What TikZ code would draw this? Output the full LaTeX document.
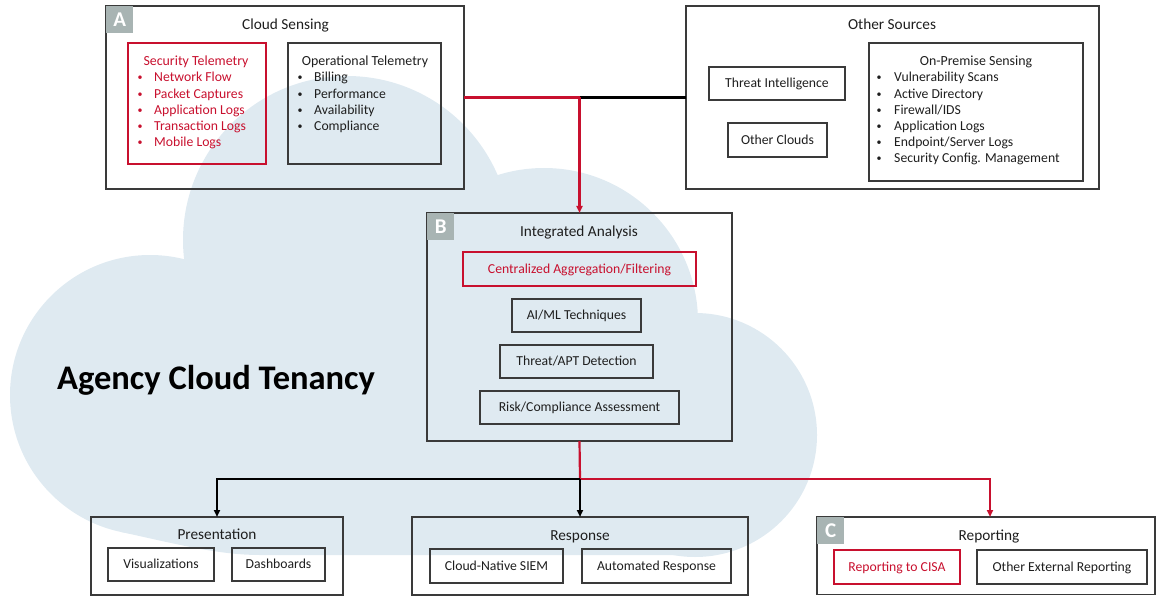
\documentclass[tikz,border=0pt]{standalone}
\usepackage{fontspec}
\setmainfont{Carlito}
\usetikzlibrary{arrows.meta}

\definecolor{cloudfill}{HTML}{DFEAF1}
\definecolor{cisared}{HTML}{C8102E}
\definecolor{frame}{HTML}{3A3A3A}
\definecolor{ink}{HTML}{1E1E1E}
\definecolor{tagfill}{HTML}{A8B4B3}

% box given by its corners (x1,y1) (x2,y2); node text may follow
\newcommand\mkbox[6]{%
  \node[#6, minimum width={(#4)-(#2)}, minimum height={(#5)-(#3)}] (#1)
    at ({((#2)+(#4))/2},{((#3)+(#5))/2})}

\begin{document}
\begin{tikzpicture}[x=1pt,y=-1pt,
  panel/.style={draw=frame, line width=1.4pt, inner sep=0pt, outer sep=0pt},
  redpanel/.style={draw=cisared, line width=1.9pt, inner sep=0pt, outer sep=0pt},
  lbl/.style={font=\fontsize{13.7}{16}\selectfont, text=ink, text height=8.5pt, text depth=0pt},
  redlbl/.style={lbl, text=cisared},
  ttl/.style={font=\fontsize{15.3}{18}\selectfont, text=ink, inner sep=0pt, anchor=base},
  item/.style={font=\fontsize{13.7}{16}\selectfont, text=ink, inner sep=0pt, anchor=base west},
  bul/.style={font=\fontsize{10}{12}\selectfont, text=ink, inner sep=0pt, anchor=base},
  tag/.style={fill=tagfill, inner sep=0pt, minimum size=27pt, anchor=north west,
    font=\bfseries\fontsize{21}{21}\selectfont, text=white},
  blackline/.style={draw=black, line width=2.2pt},
  redline/.style={draw=cisared, line width=2.2pt},
  tip/.style={-{Triangle[length=7pt,width=6pt]}}]

\useasboundingbox (0,0) rectangle (1156,596);

% agency cloud backdrop
\begin{scope}[fill=cloudfill]
  \fill (347,240) circle[radius=164];
  \fill (150,395) circle[radius=140];
  \fill (544,322) circle[radius=154];
  \fill (695,435) circle[radius=122];
  \fill (150,395) -- (120,531.7) .. controls (180,545) and (220,555) .. (260,555)
        -- (695,555) -- (695,435) -- (544,322) -- (347,240) -- cycle;
\end{scope}
\node[font=\bfseries\fontsize{34.5}{38}\selectfont, text=black, anchor=base west, inner sep=0pt]
  (tenancy) at (57,389) {Agency Cloud Tenancy};

% A: cloud sensing
\mkbox{A}{106}{6}{464}{189}{panel} {};
\node[ttl] (Att) at (285.5,29.3) {Cloud Sensing};
\mkbox{sec}{128}{43}{266}{164}{redpanel} {};
\node[ttl, font=\fontsize{13.9}{16}\selectfont, text=cisared] (sectt) at (196,65.7) {Security Telemetry};
\foreach \t [count=\i from 0] in {Network Flow, Packet Captures, Application Logs, Transaction Logs, Mobile Logs}{
  \node[bul, text=cisared] (secb\i) at (140,{81+16.2*\i}) {\textbullet};
  \node[item, text=cisared] (sec\i) at (154,{82+16.2*\i}) {\t};
}
\mkbox{ops}{288}{43}{441}{164}{panel} {};
\node[ttl, font=\fontsize{13.9}{16}\selectfont] (opstt) at (365,65.7) {Operational Telemetry};
\foreach \t [count=\i from 0] in {Billing, Performance, Availability, Compliance}{
  \node[bul] (opsb\i) at (300,{81+16.2*\i}) {\textbullet};
  \node[item] (ops\i) at (314,{82+16.2*\i}) {\t};
}

% other sources
\mkbox{O}{686}{6}{1099}{189}{panel} {};
\node[ttl] (Ott) at (892,29.3) {Other Sources};
\mkbox{TI}{709}{67}{845}{100}{panel,lbl} {Threat Intelligence};
\mkbox{OC}{728}{123}{827}{157}{panel,lbl} {Other Clouds};
\mkbox{onp}{869}{43}{1083}{181}{panel} {};
\node[ttl, font=\fontsize{13.9}{16}\selectfont] (onptt) at (976,65.5) {On-Premise Sensing};
\foreach \t [count=\i from 0] in {Vulnerability Scans, Active Directory, Firewall/IDS, Application Logs, Endpoint/Server Logs, Security Config. Management}{
  \node[bul] (onpb\i) at (879,{81+16.2*\i}) {\textbullet};
  \node[item] (onp\i) at (894,{82+16.2*\i}) {\t};
}

% B: integrated analysis
\mkbox{B}{427}{213}{732}{441}{panel} {};
\node[ttl] (Btt) at (579,236.5) {Integrated Analysis};
\mkbox{agg}{463}{252}{696}{286}{redpanel,redlbl} {Centralized Aggregation/Filtering};
\mkbox{aiml}{512}{299}{641}{332}{panel,lbl} {AI/ML Techniques};
\mkbox{apt}{500}{345}{653}{378}{panel,lbl} {Threat/APT Detection};
\mkbox{risk}{480}{391}{679}{424}{panel,lbl} {Risk/Compliance Assessment};

% outputs
\mkbox{P}{91}{517}{343}{595}{panel} {};
\node[ttl] (Ptt) at (217,539.5) {Presentation};
\mkbox{vis}{108}{548}{214}{581}{panel,lbl} {Visualizations};
\mkbox{dash}{232}{548}{325}{581}{panel,lbl} {Dashboards};

\mkbox{S}{412}{517}{748}{595}{panel} {};
\node[ttl] (Stt) at (580,540.5) {Response};
\mkbox{siem}{430}{549}{563}{583}{panel,lbl} {Cloud-Native SIEM};
\mkbox{auto}{582}{549}{731}{583}{panel,lbl} {Automated Response};

\mkbox{R}{817}{517}{1155}{594.5}{panel} {};
\node[ttl] (Rtt) at (989,540.5) {Reporting};
\mkbox{cisa}{834}{550}{960}{584}{redpanel,redlbl} {Reporting to CISA};
\mkbox{ext}{977}{550}{1147}{584}{panel,lbl} {Other External Reporting};

% section tags
\node[tag] (tagA) at (A.north west) {A};
\node[tag] (tagB) at (B.north west) {B};
\node[tag] (tagC) at (R.north west) {C};

% connectors
\coordinate (jt) at (B.north |- A.east);
\coordinate (jb) at (580,479);
\coordinate (jr) at (990,479);
\draw[blackline] (jt) -- (O.west);
\draw[redline] (A.east) -- (jt);
\draw[redline, tip] (jt) -- (B.north);
\draw[redline] (B.south) -- (jb);
\draw[redline, tip] (jb) -- (jr) -- (jr |- R.north);
\draw[blackline, tip] (jb) -| (P.north);
\draw[blackline, tip] (jb) -- (S.north);
\end{tikzpicture}
\end{document}
